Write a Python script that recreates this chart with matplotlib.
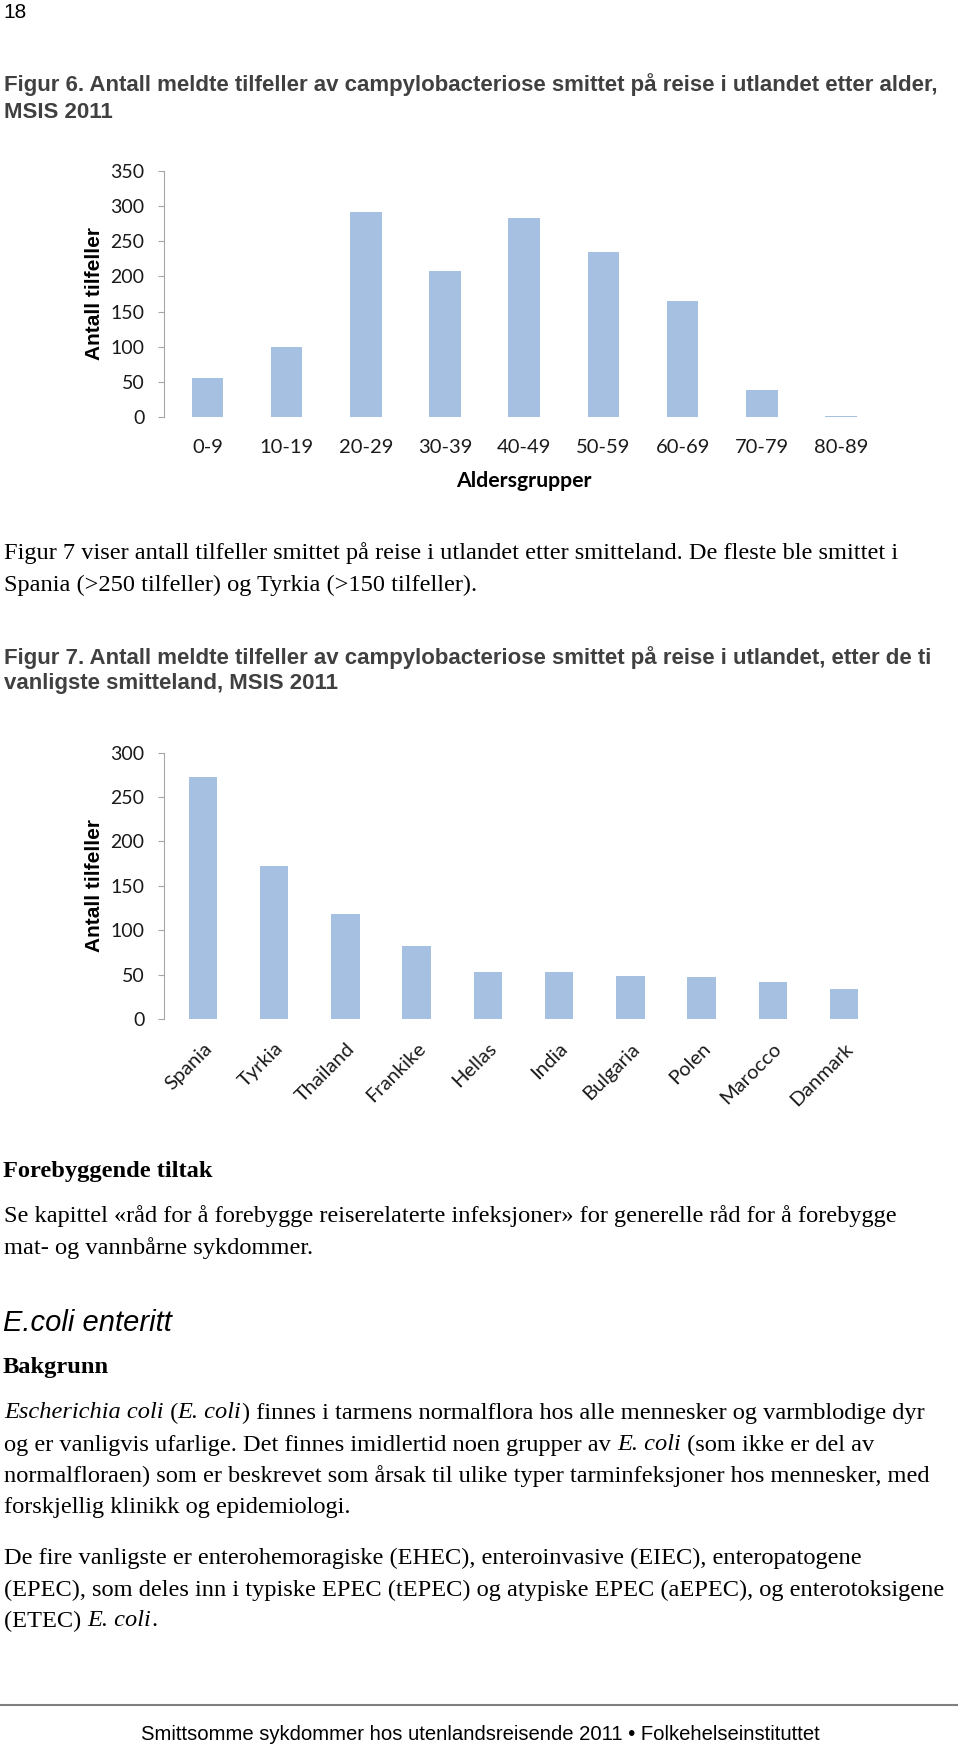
import matplotlib
matplotlib.use("Agg")
import matplotlib.pyplot as plt

W, H = 960, 1748

# data read from the page
age_groups = ["0-9", "10-19", "20-29", "30-39", "40-49", "50-59", "60-69", "70-79", "80-89"]
age_cases = [56, 100, 292, 208, 283, 235, 165, 38, 1]

countries = ["Spania", "Tyrkia", "Thailand", "Frankike", "Hellas", "India",
             "Bulgaria", "Polen", "Marocco", "Danmark"]
country_cases = [272, 172, 118, 82, 53, 53, 48, 47, 42, 34]

age_yticks = [0, 50, 100, 150, 200, 250, 300, 350]
country_yticks = [0, 50, 100, 150, 200, 250, 300]

BAR = "#A5C0E0"
AXIS = "#A6A6A6"
CAP = "#404040"
SERIF = "Liberation Serif"
SANS = "Liberation Sans"
CHART = "Lato"
BODY = 17.6
CAPSIZE = 16

fig = plt.figure(figsize=(W / 100, H / 100), dpi=100)
fig.patch.set_facecolor("white")
renderer = fig.canvas.get_renderer()


def fx(x):
    return x / W


def fy(y):
    return 1 - y / H


def txt(x, y, s, **kw):
    kw.setdefault("va", "center")
    return fig.text(fx(x), fy(y), s, **kw)


def width_of(s, **kw):
    # measure with a marker so trailing spaces count
    t1 = fig.text(0, 0, s + "|", **kw)
    t2 = fig.text(0, 0, "|", **kw)
    w = t1.get_window_extent(renderer).width - t2.get_window_extent(renderer).width
    t1.remove()
    t2.remove()
    return w


def runs(x, y, parts, size=BODY):
    for s, italic in parts:
        kw = dict(family=SERIF, fontsize=size, style="italic" if italic else "normal")
        txt(x, y, s, **kw)
        x += width_of(s, **kw)


def bar_chart(left, top, right, bottom, cats, vals, yticks, xmax, rotate):
    ax = fig.add_axes([fx(left), fy(bottom), fx(right - left), (bottom - top) / H])
    ax.bar(range(len(cats)), vals, width=0.4, color=BAR, zorder=2)
    ax.set_xlim(-0.55, xmax)
    ax.set_ylim(yticks[0], yticks[-1])
    ax.set_yticks(yticks)
    ax.set_yticklabels([str(v) for v in yticks], family=CHART, fontsize=14, color="#1a1a1a")
    for s in ["top", "right", "bottom"]:
        ax.spines[s].set_visible(False)
    ax.spines["left"].set_color(AXIS)
    ax.tick_params(axis="y", length=4, color=AXIS, pad=10)
    ax.set_xticks(range(len(cats)))
    if rotate:
        ax.set_xticklabels(cats, family=CHART, fontsize=14.5, rotation=45,
                           ha="right", va="top", rotation_mode="anchor", color="#1a1a1a")
        ax.tick_params(axis="x", length=0, pad=15)
    else:
        ax.set_xticklabels(cats, family=CHART, fontsize=14.5, color="#1a1a1a")
        ax.tick_params(axis="x", length=0, pad=16)
    ax.text((95 - left) / (right - left), 0.5, "Antall tilfeller", transform=ax.transAxes,
            rotation=90, ha="center", va="center", family=SANS, fontweight="bold", fontsize=15)
    return ax


# page number and figure 6 caption
txt(3, 13, "18", family=SANS, fontsize=15)
txt(4, 85, "Figur 6. Antall meldte tilfeller av campylobacteriose smittet på reise i utlandet etter alder,",
    family=SANS, fontweight="bold", fontsize=CAPSIZE, color=CAP)
txt(4, 113, "MSIS 2011", family=SANS, fontweight="bold", fontsize=CAPSIZE, color=CAP)

ax1 = bar_chart(163.8, 171, 880.6, 417, age_groups, age_cases, age_yticks, 8.5, False)
txt(524, 481, "Aldersgrupper", family=CHART, fontweight="bold", fontsize=15.3, ha="center")

# text between the charts
txt(4, 553, "Figur 7 viser antall tilfeller smittet på reise i utlandet etter smitteland. De fleste ble smittet i",
    family=SERIF, fontsize=BODY)
txt(4, 585, "Spania (>250 tilfeller) og Tyrkia (>150 tilfeller).", family=SERIF, fontsize=BODY)

txt(4, 658, "Figur 7. Antall meldte tilfeller av campylobacteriose smittet på reise i utlandet, etter de ti",
    family=SANS, fontweight="bold", fontsize=CAPSIZE, color=CAP)
txt(4, 684, "vanligste smitteland, MSIS 2011", family=SANS, fontweight="bold", fontsize=CAPSIZE, color=CAP)

ax2 = bar_chart(163.8, 752.6, 879.6, 1019, countries, country_cases, country_yticks, 9.5, True)

# rest of the page
txt(3, 1172, "Forebyggende tiltak", family=SERIF, fontweight="bold", fontsize=BODY)
txt(4, 1216, "Se kapittel «råd for å forebygge reiserelaterte infeksjoner» for generelle råd for å forebygge",
    family=SERIF, fontsize=BODY)
txt(4, 1248, "mat- og vannbårne sykdommer.", family=SERIF, fontsize=BODY)

txt(3, 1323, "E.coli enteritt", family=SANS, style="italic", fontsize=21)
txt(3, 1368, "Bakgrunn", family=SERIF, fontweight="bold", fontsize=BODY)

runs(4, 1413, [("Escherichia coli", True), (" (", False), ("E. coli", True),
               (") finnes i tarmens normalflora hos alle mennesker og varmblodige dyr", False)])
runs(4, 1445, [("og er vanligvis ufarlige. Det finnes imidlertid noen grupper av ", False),
               ("E. coli", True), (" (som ikke er del av", False)])
runs(4, 1476, [("normalfloraen) som er beskrevet som årsak til ulike typer tarminfeksjoner hos mennesker, med", False)])
runs(4, 1508, [("forskjellig klinikk og epidemiologi.", False)])

runs(4, 1558, [("De fire vanligste er enterohemoragiske (EHEC), enteroinvasive (EIEC), enteropatogene", False)])
runs(4, 1590, [("(EPEC), som deles inn i typiske EPEC (tEPEC) og atypiske EPEC (aEPEC), og enterotoksigene", False)])
runs(4, 1621, [("(ETEC) ", False), ("E. coli", True), (".", False)])

fig.add_artist(plt.Line2D([fx(0), fx(957)], [fy(1705), fy(1705)], color="#808080", lw=1.5))
txt(480, 1734, "Smittsomme sykdommer hos utenlandsreisende 2011 • Folkehelseinstituttet",
    family=SANS, fontsize=14.6, ha="center")

fig.savefig("out.png", dpi=100, facecolor="white")
